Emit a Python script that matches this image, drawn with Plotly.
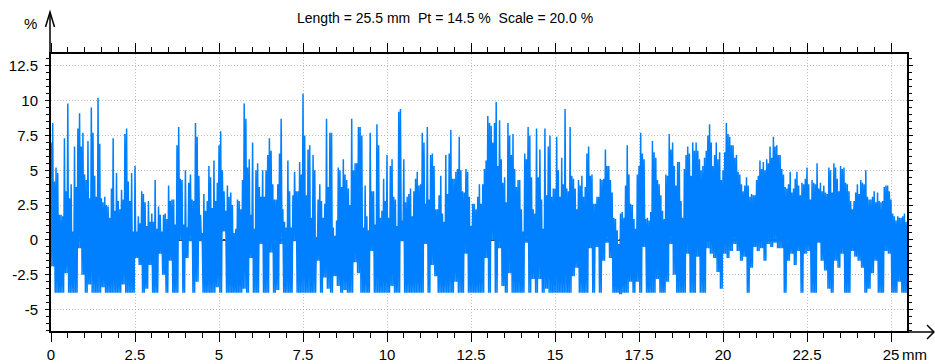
import plotly.graph_objects as go

bin_step_mm = 0.1

peak_a = [
    # 0.0 - 3.1
    7.0, 4.2, 4.8, 1.8, 7.3, 9.8, 4.0, 6.7, 8.0, 6.7, 4.7, 7.1, 9.5, 4.6, 10.2, 3.0,
    3.1, 2.4, 3.7, 2.1, 2.8, 3.6, 7.6, 4.2, 4.8, 5.3, 1.7, 3.5, 2.7, 2.8, 1.9, 4.3,
    # 3.2 - 6.3
    2.4, 0.6, 1.9, 3.9, 2.9, 1.1, 8.1, 4.3, 5.0, 4.1, 2.9, 8.4, 4.6, 0.5, 2.1, 5.3,
    2.3, 2.8, 6.8, 5.0, 2.1, 3.1, 2.5, 0.8, 2.8, 4.3, 8.7, 5.8, 7.0, 5.0, 3.8, 5.0,
    # 6.4 - 9.5
    5.0, 7.3, 4.0, 2.9, 6.2, 2.2, 0.9, 3.5, 3.2, 3.5, 5.6, 10.5, 3.2, 6.8, 6.1, 0.2,
    4.0, 1.6, 8.7, 7.7, 0.9, 1.4, 5.0, 5.8, 4.3, 2.5, 5.0, 5.5, 8.1, 0.9, 1.7, 7.7,
    # 9.6 - 12.7
    3.5, 8.3, 1.6, 4.4, 6.1, 5.3, 3.1, 1.0, 9.4, 5.8, 3.1, 3.7, 3.5, 4.9, 4.0, 7.0,
    8.1, 6.1, 5.3, 2.2, 4.6, 1.3, 3.3, 7.9, 4.4, 5.1, 5.0, 3.4, 4.9, 1.0, 2.6, 3.1,
    # 12.8 - 16.0
    2.6, 5.1, 8.9, 8.2, 8.4, 5.3, 5.8, 4.5, 8.4, 6.1, 5.1, 4.3, 2.2, 6.2, 8.1, 4.5,
    1.9, 4.5, 2.9, 8.0, 6.7, 3.1, 3.7, 5.0, 5.9, 9.4, 3.5, 4.6, 3.7, 4.3, 4.6, 3.8, 6.7,
    # 16.1 - 19.2
    4.7, 2.6, 3.1, 4.3, 6.5, 5.3, 3.4, 1.5, -0.3, 2.0, 3.9, 4.7, 2.5, 0.8, 5.3, 6.2,
    1.5, 1.4, 7.1, 5.9, 4.0, 2.1, 4.7, 7.6, 7.0, 3.9, 5.6, 1.6, 6.1, 6.2, 7.0, 7.0,
    # 19.3 - 22.4
    5.8, 5.3, 6.4, 8.3, 5.3, 7.0, 6.3, 5.0, 8.4, 7.4, 6.8, 6.1, 4.7, 3.5, 4.5, 3.1,
    3.2, 4.3, 5.7, 5.6, 5.8, 6.7, 7.4, 6.8, 6.1, 4.7, 3.7, 4.9, 3.7, 4.9, 3.2, 4.0,
    # 22.5 - 25.5
    5.2, 2.9, 4.1, 5.5, 4.1, 3.9, 3.3, 5.0, 5.5, 4.4, 5.3, 5.2, 4.0, 2.8, 2.8, 4.0,
    4.3, 4.0, 3.1, 2.9, 3.5, 3.4, 2.7, 3.8, 3.9, 2.9, 1.7, 1.7, 1.6, 1.9, 1.6,
]

peak_b = [
    8.4, 5.2, 1.8, 1.7, 3.5, 3.0, 0.6, 3.8, 9.1, 7.7, 4.3, 3.0, 7.7, 3.1, 6.9, 2.7,
    2.5, 1.6, 7.3, 4.8, 2.2, 2.9, 8.0, 2.8, 0.6, 0.6, 1.2, 3.3, 1.0, 1.3, 1.3, 0.8,
    1.8, 1.8, 1.5, 2.8, 2.9, 6.8, 4.4, 1.1, 0.9, 4.7, 2.8, 7.4, 1.8, 3.3, 2.8, 4.5,
    5.7, 4.1, 7.8, 3.5, 3.9, 3.4, 0.5, 2.9, 2.2, 9.8, 5.2, 1.8, 0.8, 5.5, 3.1, 3.1,
    6.1, 6.4, 2.9, 4.0, 8.7, 1.3, 5.7, 0.9, 4.9, 3.5, 4.7, 7.5, 6.5, 1.6, 5.0, 2.9,
    2.8, 2.6, 3.8, 7.7, 0.3, 5.2, 3.8, 4.7, 3.7, 8.7, 5.5, 8.1, 7.5, 3.9, 0.7, 3.5,
    1.1, 6.8, 2.1, 2.8, 1.6, 5.8, 2.9, 9.2, 1.4, 2.7, 3.3, 1.7, 4.4, 3.9, 7.7, 2.6,
    2.9, 6.2, 2.2, 3.2, 1.9, 6.1, 6.2, 4.4, 4.9, 7.4, 3.5, 5.1, 3.1, 2.6, 2.2, 4.0,
    4.0, 5.7, 8.4, 7.0, 9.9, 8.6, 4.1, 2.7, 7.5, 7.6, 3.8, 4.3, 0.6, 5.8, 7.5, 2.2,
    8.0, 6.5, 0.8, 3.2, 7.5, 3.7, 7.4, 3.1, 4.0, 3.7, 8.1, 4.4, 2.2, 3.9, 3.1, 6.2, 4.6,
    2.6, 3.1, 4.4, 4.4, 5.3, 4.3, 1.6, 0.7, 1.9, 1.6, 6.8, 2.6, 1.5, 4.7, 7.7, 5.8,
    1.6, 2.0, 6.3, 4.3, 3.2, 1.5, 4.6, 6.5, 5.3, 5.6, 2.8, 5.1, 6.7, 4.6, 6.4, 6.4,
    5.0, 5.9, 7.5, 7.0, 6.1, 5.8, 4.3, 6.3, 7.6, 6.8, 5.9, 4.9, 4.0, 3.9, 3.9, 3.3,
    3.2, 4.6, 5.1, 5.0, 5.5, 5.9, 6.7, 6.1, 5.1, 3.8, 4.0, 3.4, 4.4, 3.9, 4.1, 4.4,
    4.0, 4.3, 4.0, 3.7, 3.5, 3.4, 5.2, 3.4, 5.2, 3.5, 5.1, 4.1, 3.5, 2.2, 3.4, 3.3,
    4.1, 5.0, 2.9, 3.1, 2.7, 2.8, 2.8, 3.9, 3.5, 1.9, 1.4, 1.6, 1.7, 1.3, 1.2,
]

trough = [
    -1.9, -3.8, -3.8, -3.8, -2.4, -3.8, -3.8, -3.8, -0.6, -2.5, -3.8, -3.2, -3.8, -3.8, -3.8, -3.4,
    -3.8, -3.8, -3.8, -3.8, -3.8, -3.2, -3.8, -3.8, -3.8, -1.3, -1.8, -3.8, -3.5, -1.8, -3.8, -3.8,
    -1.0, -2.5, -3.8, -1.5, -3.8, -3.8, 0.0, -3.8, -1.3, -0.1, -3.8, -3.0, -0.1, -3.8, -3.8, -3.8,
    -3.8, -3.4, -3.8, 0.6, -3.8, -3.8, -3.8, -3.8, -3.8, -3.5, -3.8, -1.3, -3.8, -3.8, -0.3, -3.8,
    -3.8, -0.9, -3.8, -3.6, -0.3, -3.8, -3.8, -3.8, -0.1, -3.8, -3.8, -3.8, -3.8, -3.8, -3.8, -1.5,
    -3.8, -2.7, -3.5, -3.8, -2.6, -3.3, -3.8, -3.6, -3.8, -3.8, -1.6, -2.4, -3.8, -3.8, -3.8, -0.8,
    -3.8, -3.8, -3.8, -3.8, -3.8, -3.3, -3.8, -3.8, -0.1, -3.8, -3.8, -3.8, -3.8, -3.8, -3.8, -0.3,
    -3.8, -1.8, -2.6, -3.8, -3.8, -3.8, -3.8, -3.8, -3.0, -3.8, -3.8, -1.0, -3.8, -3.8, -3.8, -3.8,
    -3.8, -1.3, -3.8, 0.0, -3.8, -0.6, -3.3, -3.8, -2.4, -3.8, -3.8, -3.8, -3.8, -0.2, -3.8, -2.8,
    -3.8, -2.8, -3.8, -3.5, -3.8, -3.8, -3.8, -3.8, -3.8, -3.8, -3.8, -2.6, -2.0, -3.8, -3.8, -3.8, -0.6,
    -3.8, -0.5, -3.8, -1.5, -0.2, -1.3, -3.8, -3.8, -3.9, -3.8, -3.8, -3.0, -3.8, -3.0, -3.8, -0.5,
    -3.8, -3.8, -3.8, -2.8, -3.8, -3.8, -3.0, -0.3, -2.5, -3.8, -3.8, -3.8, -1.0, -3.8, -3.8, -1.2,
    -3.8, -3.8, -0.6, -1.0, -1.3, -2.3, -3.5, -1.0, -1.3, -0.8, -0.3, -0.8, -1.5, -1.2, -3.8, -2.0,
    -0.5, -0.8, -0.6, -1.5, -0.3, -0.5, -0.2, -0.6, -0.6, -3.8, -1.5, -1.0, -1.8, -0.8, -3.8, -1.0,
    -0.8, -3.8, -3.8, -0.2, -1.5, -2.2, -3.5, -3.8, -1.5, -2.0, -1.0, -3.8, -3.8, -0.8, -1.2, -1.5,
    -2.0, -3.8, -3.5, -2.4, -1.5, -3.8, -3.8, -0.8, -1.0, -3.8, -3.8, -3.0, -3.8, -3.8, -3.8,
]

x_tick_vals = [0, 2.5, 5, 7.5, 10, 12.5, 15, 17.5, 20, 22.5, 25]
x_tick_text = ["0", "2.5", "5", "7.5", "10", "12.5", "15", "17.5", "20", "22.5", "25"]
y_tick_vals = [-5, -2.5, 0, 2.5, 5, 7.5, 10, 12.5]
y_tick_text = ["-5", "-2.5", "0", "2.5", "5", "7.5", "10", "12.5"]
title_text = "Length = 25.5 mm\u00a0\u00a0Pt = 14.5 %\u00a0\u00a0Scale = 20.0 %"

# ---- build the zig-zag profile ----
xs, ys = [], []
for i, (a, b, t) in enumerate(zip(peak_a, peak_b, trough)):
    x0 = i * bin_step_mm
    xs += [x0, x0 + bin_step_mm / 4, x0 + bin_step_mm / 2, x0 + 3 * bin_step_mm / 4]
    ys += [a, t, b, t]

FONT = "Liberation Sans, Arial, sans-serif"

W, H = 935, 364
L, R, T, B = 51, 28, 54, 33
PW, PH = W - L - R, H - T - B


def px(p):
    return (p - L) / PW


def py(p):
    return (H - B - p) / PH


fig = go.Figure()
fig.add_trace(go.Scatter(x=xs, y=ys, mode="lines",
                         line=dict(color="rgb(0,128,255)", width=1.5, simplify=False),
                         hoverinfo="skip"))

axis_common = dict(
    automargin=False,
    showline=True, linewidth=2, linecolor="black", mirror="ticks",
    ticks="outside", tickcolor="black", tickwidth=1,
    showgrid=True, gridcolor="#bdbdbd", griddash="1px,2px", gridwidth=1,
    tickfont=dict(family=FONT, size=15, color="black"),
)

fig.update_layout(
    template="none",
    width=W, height=H,
    margin=dict(l=L, r=R, t=T, b=B, pad=0, autoexpand=False),
    plot_bgcolor="white", paper_bgcolor="white",
    showlegend=False,
    font=dict(family=FONT, size=15, color="black"),
    xaxis=dict(range=[0, (W - R - L) / 33.6], tickmode="array",
               tickvals=x_tick_vals, ticktext=x_tick_text, ticklen=9,
               zeroline=False,
               minor=dict(dtick=0.5, ticklen=5, ticks="outside", tickcolor="black", showgrid=False),
               **axis_common),
    yaxis=dict(range=[-6.54, 13.35], tickmode="array",
               tickvals=y_tick_vals, ticktext=y_tick_text, ticklen=4,
               ticklabelstandoff=4,
               zeroline=False,
               minor=dict(dtick=0.5, ticklen=3, ticks="outside", tickcolor="black", showgrid=False),
               **axis_common),
)

shapes = [
    # zero reference line, below the profile
    dict(type="line", xref="paper", yref="y", x0=0, x1=1, y0=0, y1=0, layer="below",
         line=dict(color="black", width=1.5)),
    # y axis extension with arrow
    dict(type="line", xref="paper", yref="paper", x0=px(50), y0=py(53), x1=px(50), y1=py(12),
         line=dict(color="black", width=1.5)),
    dict(type="path", xref="paper", yref="paper",
         path=f"M {px(45.5)} {py(27)} L {px(50)} {py(12)} L {px(54.5)} {py(27)}",
         line=dict(color="black", width=1.5)),
    # x axis extension with arrow
    dict(type="line", xref="paper", yref="paper", x0=px(907), y0=py(332), x1=px(934), y1=py(332),
         line=dict(color="black", width=1.5)),
    dict(type="path", xref="paper", yref="paper",
         path=f"M {px(927)} {py(325)} L {px(934)} {py(332)} L {px(927)} {py(339)}",
         line=dict(color="black", width=1.5)),
]
fig.update_layout(shapes=shapes)

fig.add_annotation(x=px(445), y=py(18.5), xref="paper", yref="paper", text=title_text,
                   showarrow=False, xanchor="center", yanchor="middle",
                   font=dict(family=FONT, size=14, color="black"))
fig.add_annotation(x=px(30), y=py(23.5), xref="paper", yref="paper", text="%",
                   showarrow=False, xanchor="center", yanchor="middle",
                   font=dict(family=FONT, size=15, color="black"))
fig.add_annotation(x=px(900), y=py(354), xref="paper", yref="paper", text="mm",
                   showarrow=False, xanchor="left", yanchor="middle",
                   font=dict(family=FONT, size=15, color="black"))

fig.write_html("out.html")
